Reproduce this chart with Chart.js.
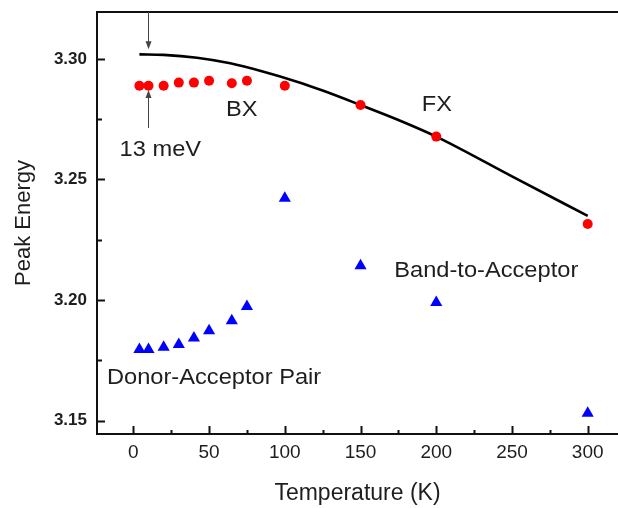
<!DOCTYPE html>
<html>
<head>
<meta charset="utf-8">
<script src="https://cdn.jsdelivr.net/npm/chart.js@4.4.1/dist/chart.umd.min.js"></script>
<style>
    html, body { margin: 0; padding: 0; background: #fff; }
    #wrap { width: 618px; height: 508px; }
</style>
</head>
<body>
<div id="wrap"><canvas id="peakChart" width="618" height="508"></canvas></div>
<script>
// Values
const excitonTemps = [4, 10, 20, 30, 40, 50, 65, 75, 100, 150, 200, 300];
const excitonEnergy = [3.2889, 3.2889, 3.2889, 3.2902, 3.2902, 3.2910, 3.2899, 3.2910, 3.2889, 3.2809, 3.2678, 3.2315];

const dapTemps = [4, 10, 20, 30, 40, 50, 65, 75];
const dapEnergy = [3.1795, 3.1795, 3.1804, 3.1815, 3.1842, 3.1872, 3.1914, 3.1973];

const baTemps = [100, 150, 200, 300];
const baEnergy = [3.2422, 3.2142, 3.1990, 3.1530];

const fitTemps = [4, 20, 42, 64, 86, 108, 125, 150, 175, 200, 250, 300];
const fitEnergy = [3.3019, 3.3017, 3.3005, 3.2982, 3.2947, 3.2906, 3.2869, 3.2809, 3.2747, 3.2678, 3.2513, 3.2349];

const xTicks = [0, 50, 100, 150, 200, 250, 300];
const yTicks = [3.15, 3.20, 3.25, 3.30];

const FONT = "'Liberation Sans', Arial, Helvetica, sans-serif";

// Turn two arrays into {x, y} points
function toPoints(xs, ys) {
    return xs.map((t, i) => ({ x: t, y: ys[i] }));
}

// Text labels inside the plot, placed in data units
const notes = [
    { text: '13 meV', t: 17.8, e: 3.2622 },
    { text: 'BX', t: 71.6, e: 3.2786 },
    { text: 'FX', t: 200.4, e: 3.2809 },
    { text: 'Band-to-Acceptor', t: 233, e: 3.2120 },
    { text: 'Donor-Acceptor Pair', t: 53.3, e: 3.1676 }
];

function arrow(ctx, x, y1, y2) {
    // line from y1 to the tip at y2
    const dir = y2 > y1 ? 1 : -1;
    ctx.beginPath();
    ctx.moveTo(x, y1);
    ctx.lineTo(x, y2 - dir * 6);
    ctx.stroke();
    ctx.beginPath();
    ctx.moveTo(x, y2);
    ctx.lineTo(x - 3, y2 - dir * 8);
    ctx.lineTo(x + 3, y2 - dir * 8);
    ctx.closePath();
    ctx.fill();
}

// no extra room around the axes, the plot box is fixed
function noPadding(scale) {
    scale.paddingTop = 0;
    scale.paddingBottom = 0;
    scale.paddingLeft = 0;
    scale.paddingRight = 0;
}

const framePlugin = {
    id: 'framePlugin',
    afterDatasetsDraw(chart) {
        const { ctx, chartArea: a, scales: { x, y } } = chart;
        ctx.save();
        ctx.strokeStyle = '#111';
        ctx.lineWidth = 2;

        // top line of the frame
        ctx.beginPath();
        ctx.moveTo(a.left - 1, a.top);
        ctx.lineTo(a.right, a.top);
        ctx.stroke();

        // inward tick marks, major and minor
        ctx.beginPath();
        xTicks.forEach(v => {
            const px = Math.round(x.getPixelForValue(v)) + 0.5;
            ctx.moveTo(px, a.bottom);
            ctx.lineTo(px, a.bottom - 8);
            const pm = Math.round(x.getPixelForValue(v + 25)) + 0.5;
            if (pm < a.right) {
                ctx.moveTo(pm, a.bottom);
                ctx.lineTo(pm, a.bottom - 4);
            }
        });
        yTicks.forEach(v => {
            const py = Math.round(y.getPixelForValue(v)) + 0.5;
            ctx.moveTo(a.left, py);
            ctx.lineTo(a.left + 8, py);
            const pm = Math.round(y.getPixelForValue(v + 0.025)) + 0.5;
            if (pm > a.top) {
                ctx.moveTo(a.left, pm);
                ctx.lineTo(a.left + 5, pm);
            }
        });
        ctx.stroke();

        // the two arrows marking the 13 meV gap
        ctx.strokeStyle = '#444';
        ctx.fillStyle = '#444';
        ctx.lineWidth = 1;
        const ax = Math.round(x.getPixelForValue(10)) + 0.5;
        arrow(ctx, ax, a.top, y.getPixelForValue(3.3040));
        arrow(ctx, ax, y.getPixelForValue(3.2714), y.getPixelForValue(3.2871));

        // labels
        ctx.fillStyle = '#1e1e1e';
        ctx.font = '21.5px ' + FONT;
        ctx.textAlign = 'center';
        ctx.textBaseline = 'middle';
        notes.forEach(n => {
            ctx.save();
            ctx.translate(x.getPixelForValue(n.t), y.getPixelForValue(n.e));
            ctx.scale(1.1, 1);
            ctx.fillText(n.text, 0, 0);
            ctx.restore();
        });
        ctx.restore();
    }
};

const ctx = document.getElementById('peakChart').getContext('2d');
const peakChart = new Chart(ctx, {
    type: 'scatter',
    data: {
        datasets: [
            {
                label: 'Fit',
                data: toPoints(fitTemps, fitEnergy),
                showLine: true,
                borderColor: '#000',
                borderWidth: 2.6,
                pointRadius: 0,
                cubicInterpolationMode: 'monotone',
                order: 3
            },
            {
                label: 'BX / FX',
                data: toPoints(excitonTemps, excitonEnergy),
                backgroundColor: '#ff0000',
                borderColor: '#ff0000',
                borderWidth: 0,
                pointRadius: 5,
                order: 1
            },
            {
                label: 'Donor-Acceptor Pair',
                data: toPoints(dapTemps, dapEnergy),
                pointStyle: 'triangle',
                backgroundColor: '#0000ff',
                borderColor: '#0000ff',
                borderWidth: 0,
                pointRadius: 7,
                order: 1
            },
            {
                label: 'Band-to-Acceptor',
                data: toPoints(baTemps, baEnergy),
                pointStyle: 'triangle',
                backgroundColor: '#0000ff',
                borderColor: '#0000ff',
                borderWidth: 0,
                pointRadius: 7,
                order: 1
            }
        ]
    },
    options: {
        responsive: false,
        animation: false,
        events: [],
        layout: { autoPadding: false, padding: { top: 12, right: 0, bottom: 0, left: 0 } },
        plugins: {
            legend: { display: false },
            tooltip: { enabled: false }
        },
        scales: {
            x: {
                type: 'linear',
                min: -24,
                max: 320,
                afterBuildTicks: scale => { scale.ticks = xTicks.map(v => ({ value: v })); },
                afterFit: scale => { scale.height = 74; noPadding(scale); },
                grid: { display: false, drawTicks: false },
                border: { display: true, color: '#111', width: 2 },
                ticks: {
                    color: '#1e1e1e',
                    padding: 7,
                    maxRotation: 0,
                    font: { family: FONT, size: 19 }
                },
                title: {
                    display: true,
                    text: 'Temperature (K)',
                    color: '#1e1e1e',
                    padding: { top: 0, bottom: 1 },
                    font: { family: FONT, size: 23 }
                }
            },
            y: {
                type: 'linear',
                min: 3.1444,
                max: 3.3195,
                afterBuildTicks: scale => { scale.ticks = yTicks.map(v => ({ value: v })); },
                afterFit: scale => { scale.width = 97; noPadding(scale); },
                grid: { display: false, drawTicks: false },
                border: { display: true, color: '#111', width: 2 },
                ticks: {
                    color: '#1e1e1e',
                    padding: 10,
                    font: { family: FONT, size: 17, weight: 'bold' },
                    callback: v => v.toFixed(2)
                },
                title: {
                    display: true,
                    text: 'Peak Energy',
                    color: '#1e1e1e',
                    padding: { top: 11, bottom: 0 },
                    font: { family: FONT, size: 22 }
                }
            }
        }
    },
    plugins: [framePlugin]
});
</script>
</body>
</html>
